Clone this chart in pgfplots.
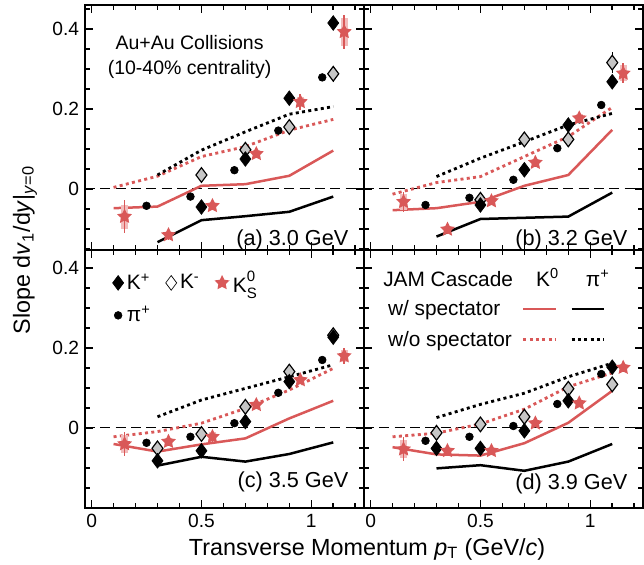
\documentclass[border=0pt]{standalone}
\usepackage{pgfplots}
\pgfplotsset{compat=1.18}
\usepackage{fontspec}
\setmainfont{Liberation Sans}

\definecolor{jamred}{RGB}{217,88,88}
\definecolor{syspink}{RGB}{242,188,188}

% filled five-point star
\pgfdeclareplotmark{fstar}{%
  \pgfpathmoveto{\pgfpointpolar{90}{\pgfplotmarksize}}%
  \pgfpathlineto{\pgfpointpolar{126}{0.5\pgfplotmarksize}}%
  \pgfpathlineto{\pgfpointpolar{162}{\pgfplotmarksize}}%
  \pgfpathlineto{\pgfpointpolar{198}{0.5\pgfplotmarksize}}%
  \pgfpathlineto{\pgfpointpolar{234}{\pgfplotmarksize}}%
  \pgfpathlineto{\pgfpointpolar{270}{0.5\pgfplotmarksize}}%
  \pgfpathlineto{\pgfpointpolar{306}{\pgfplotmarksize}}%
  \pgfpathlineto{\pgfpointpolar{342}{0.5\pgfplotmarksize}}%
  \pgfpathlineto{\pgfpointpolar{18}{\pgfplotmarksize}}%
  \pgfpathlineto{\pgfpointpolar{54}{0.5\pgfplotmarksize}}%
  \pgfpathclose\pgfusepathqfill}

\tikzset{lab/.style={anchor=base east, inner sep=0pt, font=\fontsize{13}{15}\selectfont},
  leg/.style={anchor=base, inner sep=0pt, font=\fontsize{12.5}{14}\selectfont}}
\newcommand{\KS}{K\makebox[0pt][l]{\raisebox{0.95ex}{\fontsize{9}{9}\selectfont 0}}\raisebox{-0.55ex}{\fontsize{9}{9}\selectfont S}}

\pgfplotsset{
  panel/.style={
    scale only axis, width=167.4pt, anchor=south west,
    xmin=-0.03, xmax=1.24,
    axis line style={line width=1.1pt},
    tick style={black, line width=0.9pt},
    tick align=inside, major tick length=5pt, minor tick length=3pt,
    xtick={0,0.5,1}, minor xtick={0,0.1,...,1.21},
    ytick={0,0.2,0.4}, minor ytick={-0.2,-0.15,...,0.46},
    ticklabel style={font=\fontsize{11.5}{13}\selectfont},
    /pgf/number format/assume math mode=true,
    clip=false,
  },
  toprow/.style={height=147pt, ymin=-0.1525, ymax=0.46, xticklabels={}},
  botrow/.style={height=154.8pt, ymin=-0.2, ymax=0.445},
  zero/.style={black, line width=0.6pt, dash pattern=on 6pt off 3.2pt, forget plot},
  ebar/.style={error bars/y dir=both, error bars/y explicit, error bars/error mark=none},
  kp/.style={only marks, mark=diamond*, mark size=4.4pt, black, ebar},
  km/.style={only marks, mark=diamond*, mark size=4.4pt, black,
    mark options={fill=gray!45, draw=black, line width=0.7pt}, ebar},
  kssys/.style={only marks, mark=none, forget plot, ebar,
    error bars/error bar style={line width=4pt, syspink}},
  ks/.style={only marks, mark=fstar, mark size=4.7pt, jamred, ebar,
    error bars/error bar style={line width=1pt, jamred}},
  pip/.style={only marks, mark=*, mark size=2.3pt, black},
  kw/.style={jamred, line width=1.5pt, no marks},
  kwo/.style={jamred, line width=1.7pt, dash pattern=on 1.8pt off 2pt, no marks},
  pw/.style={black, line width=1.5pt, no marks},
  pwo/.style={black, line width=1.7pt, dash pattern=on 1.8pt off 2pt, no marks},
  shortline/.style={legend image code/.code={\draw[##1] (0cm,0cm) -- (0.68cm,0cm);}},
}

\begin{document}
\begin{tikzpicture}

% ---------------- (a) 3.0 GeV
\begin{axis}[panel, toprow, at={(0pt,154.8pt)}]
\addplot[zero] coordinates {(-0.03,0) (1.24,0)};
\addplot[kwo] coordinates {(0.1,0.004)(0.3,0.032)(0.5,0.081)(0.7,0.106)(0.9,0.147)(1.1,0.174)};
\addplot[pwo] coordinates {(0.3,0.035)(0.5,0.097)(0.7,0.143)(0.9,0.187)(1.1,0.206)};
\addplot[kw] coordinates {(0.1,-0.048)(0.3,-0.044)(0.5,0.008)(0.7,0.012)(0.9,0.033)(1.1,0.096)};
\addplot[pw] coordinates {(0.3,-0.133)(0.5,-0.078)(0.7,-0.068)(0.9,-0.057)(1.1,-0.019)};
\addplot[kssys] coordinates {(0.15,-0.069)+-(0,0.03)(0.35,-0.115)+-(0,0.008)(0.55,-0.042)+-(0,0.008)(0.75,0.088)+-(0,0.01)(0.95,0.218)+-(0,0.012)(1.15,0.393)+-(0,0.035)};
\addplot[pip] coordinates {(0.25,-0.042)(0.45,-0.019)(0.65,0.047)(0.85,0.146)(1.05,0.279)};
\addplot[km] coordinates {(0.5,0.035)+-(0,0)(0.7,0.098)+-(0,0)(0.9,0.155)+-(0,0)(1.1,0.288)+-(0,0.02)};
\addplot[kp] coordinates {(0.5,-0.045)+-(0,0)(0.7,0.075)+-(0,0)(0.9,0.227)+-(0,0)(1.1,0.415)+-(0,0.015)};
\addplot[ks] coordinates {(0.15,-0.069)+-(0,0.042)(0.35,-0.115)+-(0,0.012)(0.55,-0.042)+-(0,0.01)(0.75,0.088)+-(0,0.01)(0.95,0.218)+-(0,0.02)(1.15,0.393)+-(0,0.042)};
\node[align=center, font=\fontsize{11.7}{15}\selectfont] at (rel axis cs:0.375,0.786) {Au+Au Collisions\\(10-40\% centrality)};
\node[lab] at (rel axis cs:0.945,0.02) {(a) 3.0 GeV};
\end{axis}

% ---------------- (b) 3.2 GeV
\begin{axis}[panel, toprow, at={(167.4pt,154.8pt)}, yticklabels={}]
\addplot[zero] coordinates {(-0.03,0) (1.24,0)};
\addplot[kwo] coordinates {(0.1,-0.013)(0.3,0.016)(0.5,0.031)(0.7,0.081)(0.9,0.131)(1.1,0.204)};
\addplot[pwo] coordinates {(0.3,0.031)(0.5,0.077)(0.7,0.118)(0.9,0.160)(1.1,0.189)};
\addplot[kw] coordinates {(0.1,-0.053)(0.3,-0.048)(0.5,-0.032)(0.7,0.008)(0.9,0.035)(1.1,0.148)};
\addplot[pw] coordinates {(0.3,-0.119)(0.5,-0.075)(0.7,-0.072)(0.9,-0.069)(1.1,-0.009)};
\addplot[kssys] coordinates {(0.15,-0.032)+-(0,0.02)(0.35,-0.101)+-(0,0.008)(0.55,-0.030)+-(0,0.008)(0.75,0.066)+-(0,0.01)(0.95,0.177)+-(0,0.01)(1.15,0.289)+-(0,0.02)};
\addplot[pip] coordinates {(0.25,-0.040)(0.45,-0.022)(0.65,0.023)(0.85,0.102)(1.05,0.210)};
\addplot[km] coordinates {(0.5,-0.027)+-(0,0)(0.7,0.124)+-(0,0)(0.9,0.124)+-(0,0)(1.1,0.316)+-(0,0.027)};
\addplot[kp] coordinates {(0.5,-0.040)+-(0,0)(0.7,0.048)+-(0,0)(0.9,0.160)+-(0,0)(1.1,0.268)+-(0,0.01)};
\addplot[ks] coordinates {(0.15,-0.032)+-(0,0.025)(0.35,-0.101)+-(0,0.012)(0.55,-0.030)+-(0,0.01)(0.75,0.066)+-(0,0.012)(0.95,0.177)+-(0,0.012)(1.15,0.289)+-(0,0.025)};
\node[lab] at (rel axis cs:0.945,0.02) {(b) 3.2 GeV};
\end{axis}

% ---------------- (c) 3.5 GeV
\begin{axis}[panel, botrow, at={(0pt,0pt)},
  legend columns=3, legend cell align=left,
  legend style={at={(rel axis cs:0.08,0.945)}, anchor=north west, draw=none, fill=none,
    font=\fontsize{12.5}{14}\selectfont, row sep=3pt,
    /tikz/every even column/.append style={column sep=7pt}}]
\addlegendimage{only marks, mark=diamond*, mark size=4.4pt, black}\addlegendentry{K\textsuperscript{+}}
\addlegendimage{only marks, mark=diamond*, mark size=4.4pt, black, mark options={fill=white}}\addlegendentry{K\textsuperscript{-}}
\addlegendimage{only marks, mark=fstar, mark size=4.7pt, jamred}\addlegendentry{\KS}
\addlegendimage{only marks, mark=*, mark size=2.3pt, black}\addlegendentry{π\textsuperscript{+}}
\addplot[zero] coordinates {(-0.03,0) (1.24,0)};
\addplot[forget plot, kwo] coordinates {(0.1,-0.022)(0.3,-0.009)(0.5,0.012)(0.7,0.049)(0.9,0.095)(1.1,0.149)};
\addplot[forget plot, pwo] coordinates {(0.3,0.028)(0.5,0.070)(0.7,0.099)(0.9,0.128)(1.1,0.158)};
\addplot[forget plot, kw] coordinates {(0.1,-0.040)(0.3,-0.059)(0.5,-0.041)(0.7,-0.026)(0.9,0.024)(1.1,0.068)};
\addplot[forget plot, pw] coordinates {(0.3,-0.094)(0.5,-0.072)(0.7,-0.084)(0.9,-0.065)(1.1,-0.036)};
\addplot[kssys] coordinates {(0.15,-0.040)+-(0,0.022)(0.35,-0.034)+-(0,0.008)(0.55,-0.022)+-(0,0.012)(0.75,0.058)+-(0,0.008)(0.95,0.120)+-(0,0.008)(1.15,0.180)+-(0,0.015)};
\addplot[forget plot, pip] coordinates {(0.25,-0.037)(0.45,-0.022)(0.65,0.012)(0.85,0.088)(1.05,0.170)};
\addplot[forget plot, km] coordinates {(0.3,-0.051)+-(0,0)(0.5,-0.015)+-(0,0)(0.7,0.053)+-(0,0)(0.9,0.141)+-(0,0)(1.1,0.232)+-(0,0)};
\addplot[forget plot, kp] coordinates {(0.3,-0.082)+-(0,0)(0.5,-0.057)+-(0,0)(0.7,0.016)+-(0,0)(0.9,0.116)+-(0,0)(1.1,0.227)+-(0,0)};
\addplot[forget plot, ks] coordinates {(0.15,-0.040)+-(0,0.03)(0.35,-0.034)+-(0,0.01)(0.55,-0.022)+-(0,0.015)(0.75,0.058)+-(0,0.01)(0.95,0.120)+-(0,0.01)(1.15,0.180)+-(0,0.02)};
\node[lab] at (rel axis cs:0.945,0.078) {(c) 3.5 GeV};
\end{axis}

% ---------------- (d) 3.9 GeV
\begin{axis}[panel, botrow, at={(167.4pt,0pt)}, yticklabels={},
  legend columns=3, legend cell align=left,
  legend style={at={(rel axis cs:0.055,0.833)}, anchor=north west, draw=none, fill=none,
    font=\fontsize{12.5}{14}\selectfont, row sep=4pt,
    /tikz/every even column/.append style={column sep=4pt},
    /tikz/column 2/.append style={column sep=22pt}}]
\addlegendimage{empty legend}\addlegendentry{w/ spectator}
\addlegendimage{kw, shortline}\addlegendentry{}
\addlegendimage{pw, shortline}\addlegendentry{}
\addlegendimage{empty legend}\addlegendentry{w/o spectator}
\addlegendimage{kwo, shortline}\addlegendentry{}
\addlegendimage{pwo, shortline}\addlegendentry{}
\addplot[zero] coordinates {(-0.03,0) (1.24,0)};
\addplot[forget plot, kwo] coordinates {(0.1,-0.022)(0.3,-0.013)(0.5,0.010)(0.7,0.047)(0.9,0.103)(1.1,0.138)};
\addplot[forget plot, pwo] coordinates {(0.3,0.026)(0.5,0.059)(0.7,0.087)(0.9,0.128)(1.1,0.162)};
\addplot[forget plot, kw] coordinates {(0.1,-0.048)(0.3,-0.066)(0.5,-0.069)(0.7,-0.038)(0.9,0.013)(1.1,0.093)};
\addplot[forget plot, pw] coordinates {(0.3,-0.101)(0.5,-0.093)(0.7,-0.107)(0.9,-0.084)(1.1,-0.040)};
\addplot[kssys] coordinates {(0.15,-0.053)+-(0,0.022)(0.35,-0.057)+-(0,0.008)(0.55,-0.057)+-(0,0.008)(0.75,0.012)+-(0,0.008)(0.95,0.062)+-(0,0.008)(1.15,0.151)+-(0,0.01)};
\addplot[forget plot, pip] coordinates {(0.25,-0.032)(0.45,-0.022)(0.65,0.005)(0.85,0.060)(1.05,0.135)};
\addplot[forget plot, km] coordinates {(0.3,-0.012)+-(0,0)(0.5,0.009)+-(0,0)(0.7,0.028)+-(0,0)(0.9,0.098)+-(0,0)(1.1,0.109)+-(0,0)};
\addplot[forget plot, kp] coordinates {(0.3,-0.051)+-(0,0)(0.5,-0.051)+-(0,0)(0.7,-0.007)+-(0,0)(0.9,0.068)+-(0,0)(1.1,0.152)+-(0,0)};
\addplot[forget plot, ks] coordinates {(0.15,-0.053)+-(0,0.03)(0.35,-0.057)+-(0,0.01)(0.55,-0.057)+-(0,0.01)(0.75,0.012)+-(0,0.01)(0.95,0.062)+-(0,0.01)(1.15,0.151)+-(0,0.012)};
\node[leg, anchor=base west] at (rel axis cs:0.068,0.86) {JAM Cascade};
\node[leg] at (rel axis cs:0.658,0.86) {K\textsuperscript{0}};
\node[leg] at (rel axis cs:0.838,0.86) {π\textsuperscript{+}};
\node[lab] at (rel axis cs:0.945,0.07) {(d) 3.9 GeV};
\end{axis}

\node[rotate=90, font=\fontsize{14}{16}\selectfont] at (-36pt,154.8pt)
  {Slope d\textit{v}\textsubscript{1}/d\textit{y}|\textsubscript{\textit{y}=0}};
\node[font=\fontsize{14}{16}\selectfont] at (169.2pt,-24.6pt)
  {Transverse Momentum \textit{p}\textsubscript{T} (GeV/\textit{c})};

\pgfresetboundingbox
\path (-51pt,-34.2pt) rectangle (335.4pt,304.8pt);
\end{tikzpicture}
\end{document}
